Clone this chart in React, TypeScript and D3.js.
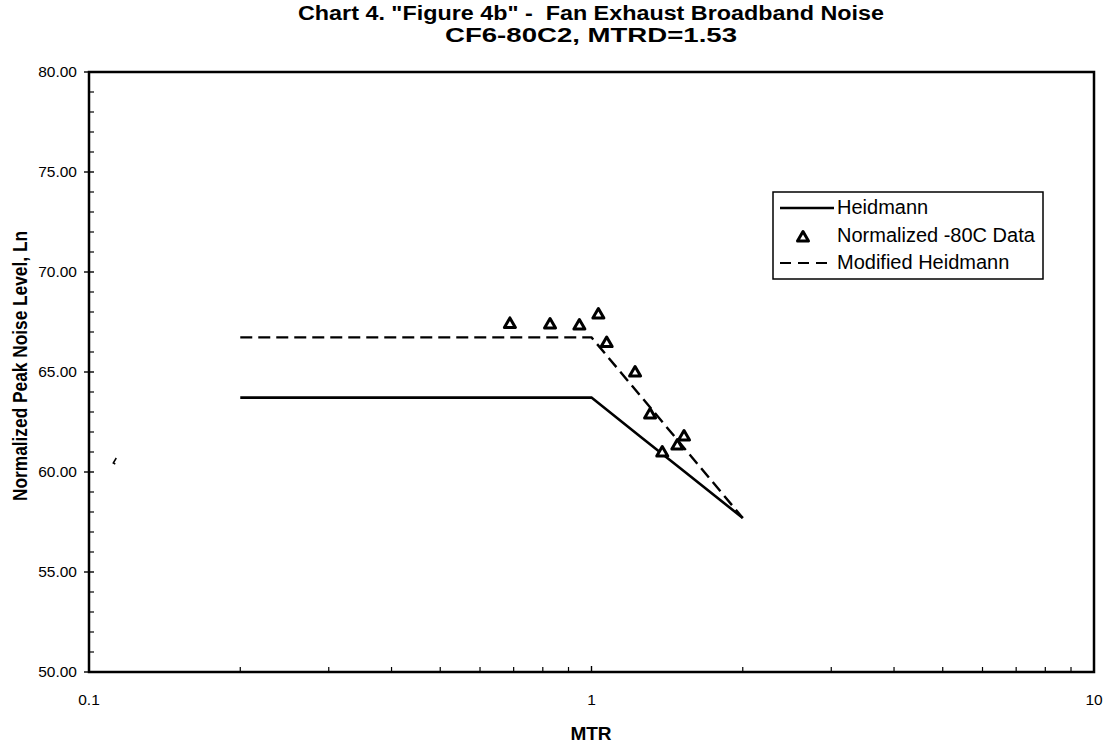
import React from "react";
import * as d3 from "d3";

const titleLines = ['Chart 4. "Figure 4b" -  Fan Exhaust Broadband Noise', "CF6-80C2, MTRD=1.53"];
const xLabel = "MTR";
const yLabel = "Normalized Peak Noise Level, Ln";

const yTicks = [50, 55, 60, 65, 70, 75, 80];
const xTickLabels = [0.1, 1, 10];

// Heidmann (solid)
const heidmannMTR = [0.2, 1.0, 1.25, 1.5, 2.0];
const heidmannLn = [63.72, 63.72, 61.78, 60.2, 57.7];

// Modified Heidmann (dashed)
const modifiedMTR = [0.2, 1.0, 1.5, 2.0];
const modifiedLn = [66.73, 66.73, 61.45, 57.7];

// Normalized -80C data (triangles)
const dataMTR = [0.688, 0.827, 0.946, 1.032, 1.072, 1.221, 1.308, 1.528, 1.482, 1.383];
const dataLn = [67.43, 67.4, 67.35, 67.9, 66.47, 65.0, 62.9, 61.8, 61.35, 61.0];

// stray scan mark
const strayMTR = [0.1128];
const strayLn = [60.5];

const W = 1105, H = 743;
const L = 89, R = 1094, T = 72, B = 672;

export default function App() {
  const x = d3.scaleLog().domain([0.1, 10]).range([L, R]);
  const y = d3.scaleLinear().domain([50, 80]).range([B, T]);
  const line = d3.line<[number, number]>().x(d => x(d[0])).y(d => y(d[1]));
  const heid: [number, number][] = heidmannMTR.map((m, i) => [m, heidmannLn[i]]);
  const mod: [number, number][] = modifiedMTR.map((m, i) => [m, modifiedLn[i]]);

  const yMinor = d3.range(51, 80).filter(v => v % 5 !== 0);
  const xMinor: number[] = [];
  [0.1, 1].forEach(dec => { for (let k = 2; k <= 9; k++) xMinor.push(dec * k); });

  const tri = (cx: number, cy: number, key: any) => (
    <path key={key} d={`M${cx},${cy - 5.5} L${cx + 5.5},${cy + 4} L${cx - 5.5},${cy + 4} Z`}
      fill="#fff" stroke="#000" strokeWidth={3} strokeLinejoin="round" />
  );

  const font = "'Liberation Sans', Arial, Helvetica, sans-serif";
  const lx = 773, ly = 192, lw = 270, lh = 87;
  const dash = "12,6";

  return (
    <svg width={W} height={H} style={{ position: "absolute", left: 0, top: 0, background: "#fff" }} fontFamily={font}>
      <rect x={0} y={0} width={W} height={H} fill="#fff" />
      {/* title */}
      <text x={591} y={20} textAnchor="middle" fontSize={20} fontWeight="bold" style={{ whiteSpace: "pre" }}
        textLength={586} lengthAdjust="spacingAndGlyphs">{titleLines[0]}</text>
      <text x={591} y={42} textAnchor="middle" fontSize={20} fontWeight="bold"
        textLength={292} lengthAdjust="spacingAndGlyphs">{titleLines[1]}</text>

      {/* minor ticks */}
      {yMinor.map(v => <line key={"ym" + v} x1={L} x2={L + 5} y1={y(v)} y2={y(v)} stroke="#000" strokeWidth={1.2} />)}
      {yTicks.map(v => <line key={"yM" + v} x1={L - 5} x2={L + 5} y1={y(v)} y2={y(v)} stroke="#000" strokeWidth={1.4} />)}
      {xMinor.map(v => <line key={"xm" + v} x1={x(v)} x2={x(v)} y1={B} y2={B - 5} stroke="#000" strokeWidth={1.2} />)}
      <line x1={x(1)} x2={x(1)} y1={B} y2={B - 6} stroke="#000" strokeWidth={1.4} />

      {/* frame */}
      <rect x={L} y={T} width={R - L} height={B - T} fill="none" stroke="#000" strokeWidth={2.5} />

      {/* y tick labels */}
      {yTicks.map(v => (
        <text key={"yl" + v} x={77} y={y(v) + 5} textAnchor="end" fontSize={15.5}>{v.toFixed(2)}</text>
      ))}
      {/* x tick labels */}
      {xTickLabels.map(v => (
        <text key={"xl" + v} x={x(v)} y={705} textAnchor="middle" fontSize={15.5}>{String(v)}</text>
      ))}

      {/* axis titles */}
      <text x={591} y={740} textAnchor="middle" fontSize={19} fontWeight="bold">{xLabel}</text>
      <text transform={`translate(27,${366}) rotate(-90)`} textAnchor="middle" fontSize={21} fontWeight="bold"
        textLength={270} lengthAdjust="spacingAndGlyphs">{yLabel}</text>

      {/* series */}
      <path d={line(heid) || ""} fill="none" stroke="#000" strokeWidth={2.6} />
      <path d={line(mod) || ""} fill="none" stroke="#000" strokeWidth={2.4} strokeDasharray={dash} />
      {dataMTR.map((m, i) => tri(x(m), y(dataLn[i]), "d" + i))}

      {/* stray mark */}
      {strayMTR.map((m, i) => (
        <path key={"s" + i} d={`M${x(m) + 1},${y(strayLn[i]) - 4} L${x(m) - 2},${y(strayLn[i]) + 1} L${x(m)},${y(strayLn[i]) + 2}`}
          fill="none" stroke="#000" strokeWidth={1.5} />
      ))}

      {/* legend */}
      <rect x={lx} y={ly} width={lw} height={lh} fill="#fff" stroke="#000" strokeWidth={1.5} />
      <line x1={lx + 7} x2={lx + 61} y1={208} y2={208} stroke="#000" strokeWidth={2.4} />
      <text x={lx + 64} y={214} fontSize={20}>Heidmann</text>
      {tri(lx + 30, 237, "lt")}
      <text x={lx + 64} y={242} fontSize={20}>Normalized -80C Data</text>
      <line x1={lx + 7} x2={lx + 59} y1={263} y2={263} stroke="#000" strokeWidth={2.2} strokeDasharray="11,7" />
      <text x={lx + 64} y={269} fontSize={20}>Modified Heidmann</text>
    </svg>
  );
}
